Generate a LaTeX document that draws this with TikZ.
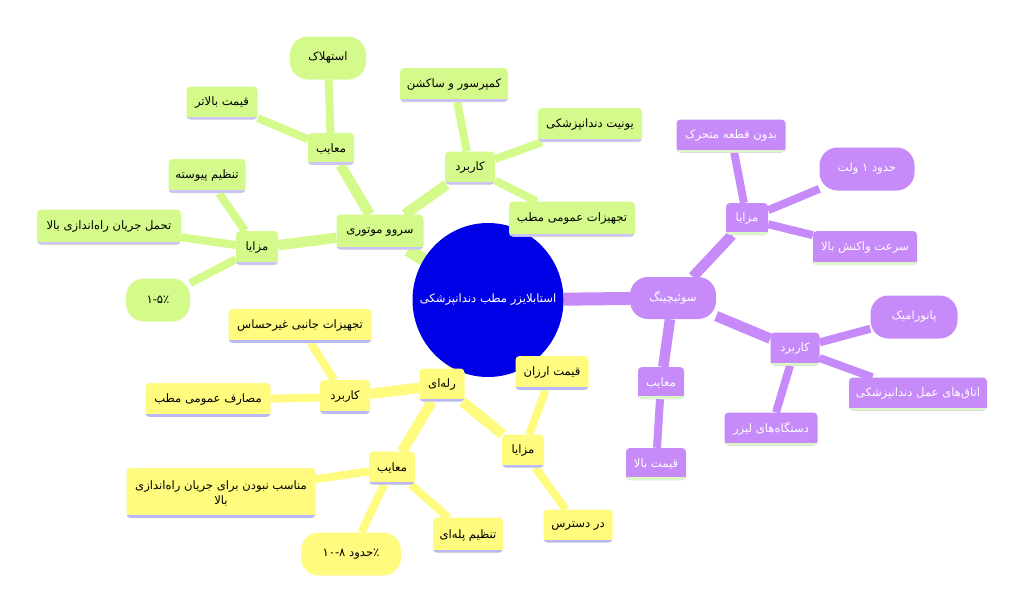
\documentclass[tikz,border=0pt]{standalone}
\usepackage{fontspec}
\newfontfamily\fafont[Script=Arabic]{DejaVu Sans}
\TeXXeTstate=1
\usetikzlibrary{shapes.geometric,backgrounds}
\definecolor{gfill}{HTML}{D5FA8C}
\definecolor{gline}{HTML}{CCC4F8}
\definecolor{pfill}{HTML}{C68AF9}
\definecolor{pline}{HTML}{DDF8C8}
\definecolor{yfill}{HTML}{FEFB7E}
\definecolor{yline}{HTML}{B9B9FA}
\definecolor{cblue}{HTML}{0000E6}
\newcommand\rtltext[1]{\beginR #1\endR}
\tikzset{
  base/.style={font=\fafont\fontsize{11.6}{15}\selectfont, inner sep=2pt, align=center},
  under/.style={path picture={\fill[#1,sharp corners] ([yshift=3pt]path picture bounding box.south west) rectangle (path picture bounding box.south east);}},
  gbox/.style={base, fill=gfill, rounded corners=4pt, text=black, under=gline},
  gleaf/.style={base, fill=gfill, rounded corners=18pt, text=black},
  pbox/.style={base, fill=pfill, rounded corners=4pt, text=white, under=pline},
  pleaf/.style={base, fill=pfill, rounded corners=18pt, text=white},
  ybox/.style={base, fill=yfill, rounded corners=4pt, text=black, under=yline},
  yleaf/.style={base, fill=yfill, rounded corners=18pt, text=black},
  lone/.style={line width=13pt},
  ltwo/.style={line width=10.5pt},
  lthree/.style={line width=8pt},
}
\begin{document}
\begin{tikzpicture}[x=1pt,y=-1pt]
\useasboundingbox (0,0) rectangle (1024,613);
% central
\node[ellipse, fill=cblue, minimum width=151, minimum height=154, inner xsep=-16pt, inner ysep=0pt, text=white, font=\fafont\fontsize{11.6}{15}\selectfont] (c) at (488,300) {\rtltext{استابلایزر مطب دندانپزشکی}};
% green branch
\node[gbox, minimum width=87, minimum height=35] (servo) at (380,232) {\rtltext{سروو موتوری}};
\node[gbox, minimum width=46, minimum height=32] (gm) at (331,149) {\rtltext{معایب}};
\node[gleaf, minimum width=76, minimum height=43] (gm1) at (328,58) {\rtltext{استهلاک}};
\node[gbox, minimum width=71, minimum height=33] (gm2) at (222,103) {\rtltext{قیمت بالاتر}};
\node[gbox, minimum width=50, minimum height=33] (gk) at (470,168) {\rtltext{کاربرد}};
\node[gbox, minimum width=108, minimum height=34] (gk1) at (454,85) {\rtltext{کمپرسور و ساکشن}};
\node[gbox, minimum width=104, minimum height=34] (gk2) at (590,125) {\rtltext{یونیت دندانپزشکی}};
\node[gbox, minimum width=126, minimum height=35] (gk3) at (572,219) {\rtltext{تجهیزات عمومی مطب}};
\node[gbox, minimum width=42, minimum height=34] (ga) at (257,248) {\rtltext{مزایا}};
\node[gbox, minimum width=77, minimum height=34] (ga1) at (207,176) {\rtltext{تنظیم پیوسته}};
\node[gbox, minimum width=144, minimum height=35] (ga2) at (109,227) {\rtltext{تحمل جریان راه‌اندازی بالا}};
\node[gleaf, minimum width=64, minimum height=43] (ga3) at (158,300) {\beginL ۱-۵٪\endL};
% purple branch
\node[pleaf, minimum width=86, minimum height=42] (sw) at (673,298) {\rtltext{سوئیچینگ}};
\node[pbox, minimum width=42, minimum height=32] (pa) at (747,219) {\rtltext{مزایا}};
\node[pbox, minimum width=109, minimum height=33] (pa1) at (731,136) {\rtltext{بدون قطعه متحرک}};
\node[pleaf, minimum width=95, minimum height=43] (pa2) at (867,169) {\rtltext{حدود ۱ ولت}};
\node[pbox, minimum width=104, minimum height=34] (pa3) at (865,248) {\rtltext{سرعت واکنش بالا}};
\node[pbox, minimum width=49, minimum height=33] (pk) at (795,349) {\rtltext{کاربرد}};
\node[pleaf, minimum width=87, minimum height=43] (pk1) at (914,317) {\rtltext{پانورامیک}};
\node[pbox, minimum width=138, minimum height=33] (pk2) at (918,394) {\rtltext{اتاق‌های عمل دندانپزشکی}};
\node[pbox, minimum width=93, minimum height=33] (pk3) at (771,429) {\rtltext{دستگاه‌های لیزر}};
\node[pbox, minimum width=46, minimum height=32] (pm) at (661,383) {\rtltext{معایب}};
\node[pbox, minimum width=60, minimum height=32] (pm1) at (656,464) {\rtltext{قیمت بالا}};
% yellow branch
\node[ybox, minimum width=45, minimum height=33] (rl) at (442,385) {\rtltext{رله‌ای}};
\node[ybox, minimum width=50, minimum height=34] (yk) at (345,397) {\rtltext{کاربرد}};
\node[ybox, minimum width=143, minimum height=34] (yk1) at (300,326) {\rtltext{تجهیزات جانبی غیرحساس}};
\node[ybox, minimum width=125, minimum height=34] (yk2) at (208,400) {\rtltext{مصارف عمومی مطب}};
\node[ybox, minimum width=42, minimum height=33] (ya) at (523,451) {\rtltext{مزایا}};
\node[ybox, minimum width=73, minimum height=34] (ya1) at (552,373) {\rtltext{قیمت ارزان}};
\node[ybox, minimum width=69, minimum height=33] (ya2) at (578,526) {\rtltext{در دسترس}};
\node[ybox, minimum width=46, minimum height=33] (ym) at (392,468) {\rtltext{معایب}};
\node[ybox, minimum width=189, minimum height=50] (ym1) at (221,493) {\rtltext{مناسب نبودن برای جریان راه‌اندازی}\\\rtltext{بالا}};
\node[yleaf, minimum width=100, minimum height=43] (ym2) at (351,554) {\beginL ۱۰-۸ \beginR حدود\endR٪\endL};
\node[ybox, minimum width=70, minimum height=35] (ym3) at (468,535) {\rtltext{تنظیم پله‌ای}};
\begin{pgfonlayer}{background}
\fill[white] (0,0) rectangle (1024,613);
\draw[gfill, lone] (c) -- (servo);
\draw[gfill, ltwo] (servo) -- (gm);
\draw[gfill, ltwo] (servo) -- (gk);
\draw[gfill, ltwo] (servo) -- (ga);
\draw[gfill, lthree] (gm) -- (gm1);
\draw[gfill, lthree] (gm) -- (gm2);
\draw[gfill, lthree] (gk) -- (gk1);
\draw[gfill, lthree] (gk) -- (gk2);
\draw[gfill, lthree] (gk) -- (gk3);
\draw[gfill, lthree] (ga) -- (ga1);
\draw[gfill, lthree] (ga) -- (ga2);
\draw[gfill, lthree] (ga) -- (ga3);
\draw[pfill, lone] (c) -- (sw);
\draw[pfill, ltwo] (sw) -- (pa);
\draw[pfill, ltwo] (sw) -- (pk);
\draw[pfill, ltwo] (sw) -- (pm);
\draw[pfill, lthree] (pa) -- (pa1);
\draw[pfill, lthree] (pa) -- (pa2);
\draw[pfill, lthree] (pa) -- (pa3);
\draw[pfill, lthree] (pk) -- (pk1);
\draw[pfill, lthree] (pk) -- (pk2);
\draw[pfill, lthree] (pk) -- (pk3);
\draw[pfill, lthree] (pm) -- (pm1);
\draw[yfill, lone] (c) -- (rl);
\draw[yfill, ltwo] (rl) -- (yk);
\draw[yfill, ltwo] (rl) -- (ya);
\draw[yfill, ltwo] (rl) -- (ym);
\draw[yfill, lthree] (yk) -- (yk1);
\draw[yfill, lthree] (yk) -- (yk2);
\draw[yfill, lthree] (ya) -- (ya1);
\draw[yfill, lthree] (ya) -- (ya2);
\draw[yfill, lthree] (ym) -- (ym1);
\draw[yfill, lthree] (ym) -- (ym2);
\draw[yfill, lthree] (ym) -- (ym3);
\end{pgfonlayer}
\end{tikzpicture}
\end{document}
